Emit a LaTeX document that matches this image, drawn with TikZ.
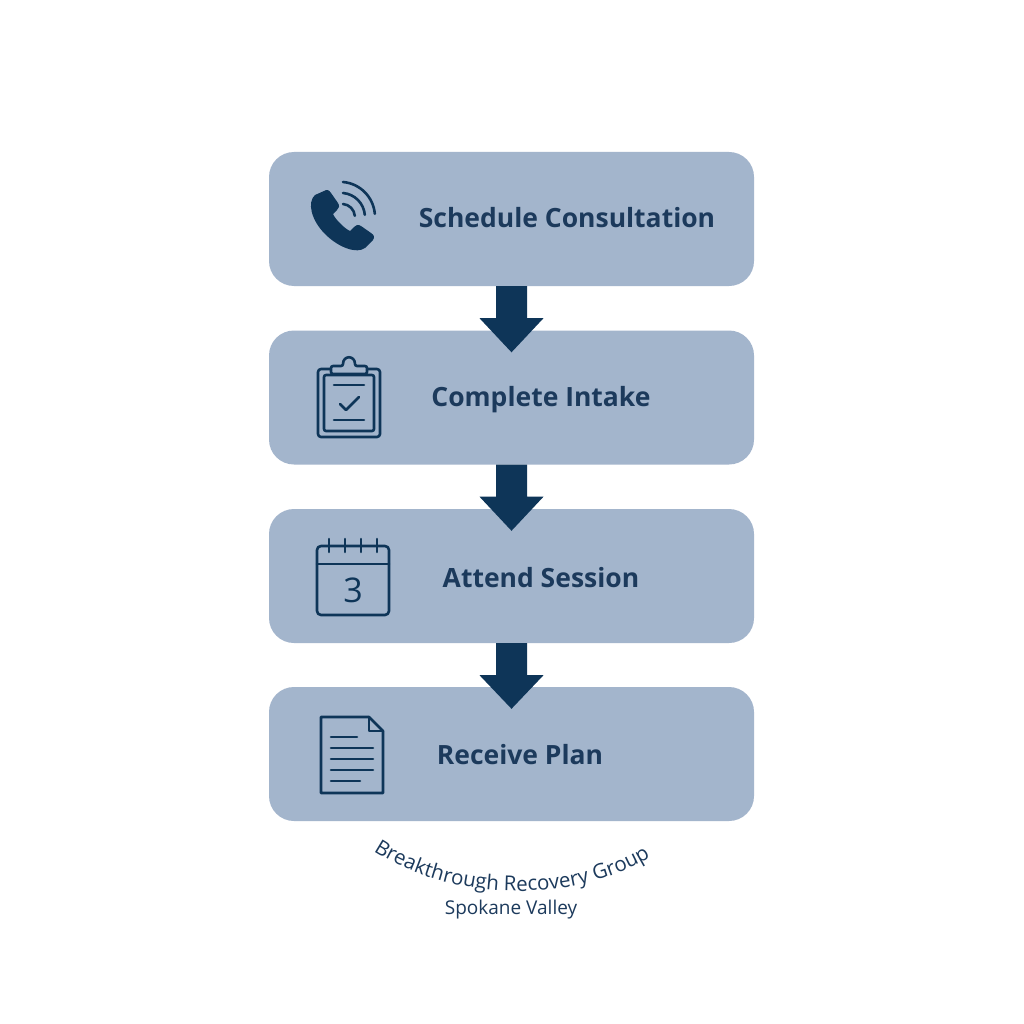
\documentclass[tikz,border=0pt]{standalone}
\usepackage{fontspec}
\setmainfont{Open Sans}
\usetikzlibrary{decorations.text}
\definecolor{boxc}{HTML}{A3B5CC}
\definecolor{navy}{HTML}{0E3558}
\definecolor{txt}{HTML}{1C3A5C}
\begin{document}
\begin{tikzpicture}[x=1pt,y=-1pt,
  stepbox/.style={fill=boxc,rounded corners=25pt,minimum width=485pt,minimum height=134pt,inner sep=0pt},
  lab/.style={text=txt,font=\fontsize{26.5}{28}\selectfont\bfseries},
  ic/.style={draw=navy,line width=2.6pt,line cap=round,line join=round}]
\useasboundingbox (0,0) rectangle (1024,1024);
\fill[white] (0,0) rectangle (1024,1024);
\node[stepbox] (b1) at (511.5,219) {};
\node[stepbox] (b2) at (511.5,397.5) {};
\node[stepbox] (b3) at (511.5,576) {};
\node[stepbox] (b4) at (511.5,754) {};
\node[lab] (t1) at (567,218) {Schedule Consultation};
\node[lab] (t2) at (541,400) {Complete Intake};
\node[lab] (t3) at (541,578) {Attend Session};
\node[lab] (t4) at (520,755) {Receive Plan};
% arrows
\foreach \a/\b in {b1/b2,b2/b3,b3/b4}{
  \fill[navy] ([xshift=-15.5pt]\a.south) -- ([xshift=-15.5pt,yshift=-32pt]\a.south) -- ([xshift=-32pt,yshift=-32pt]\a.south)
   -- ([yshift=-22pt]\b.north) -- ([xshift=32pt,yshift=-32pt]\a.south) -- ([xshift=15.5pt,yshift=-32pt]\a.south) -- ([xshift=15.5pt]\a.south) -- cycle;
}
% phone icon
\begin{scope}[shift={(345,220)}]
\fill[navy] (-30,-25) .. controls (-38,-18) and (-34,0) .. (-20,14) .. controls (-6,28) and (12,34) .. (20,28)
  -- (28,20) .. controls (30,17) and (29,15) .. (26,13) -- (16,6) .. controls (13,4) and (11,5) .. (9,7) -- (5,11)
  .. controls (0,9) and (-10,-1) .. (-12,-6) -- (-8,-10) .. controls (-6,-12) and (-5,-14) .. (-7,-17) -- (-14,-27)
  .. controls (-16,-30) and (-18,-31) .. (-21,-29) -- cycle;
\draw[ic] (-2,-16) arc (-85:-5:13);
\draw[ic] (-2,-27) arc (-85:-5:24);
\draw[ic] (-2,-38) arc (-85:-5:35);
\end{scope}
% clipboard
\begin{scope}[shift={(349,398)}]
\draw[ic,rounded corners=3pt] (-31,-29) rectangle (31,39);
\draw[ic,rounded corners=2pt] (-25,-23) rectangle (25,33);
\draw[ic,fill=boxc,rounded corners=2pt] (-18,-24) -- (-18,-32) -- (-6,-32) .. controls (-6,-43) and (6,-43) .. (6,-32) -- (18,-32) -- (18,-24) -- cycle;
\draw[ic] (-15,-13) -- (15,-13);
\draw[ic] (-9,6) -- (-3,12) -- (10,-1);
\draw[ic] (-15,22) -- (15,22);
\end{scope}
% calendar
\begin{scope}[shift={(353,578)}]
\draw[ic,rounded corners=4pt] (-36,-32) rectangle (36,37);
\draw[ic] (-36,-14) -- (36,-14);
\foreach \x in {-24,-8,8,24} \draw[ic] (\x,-39) -- (\x,-26);
\node[text=navy,font=\fontsize{34}{34}\selectfont] (n3) at (0,12) {3};
\end{scope}
% document
\begin{scope}[shift={(352,755)}]
\draw[ic] (-31,-38) -- (17,-38) -- (31,-24) -- (31,38) -- (-31,38) -- cycle;
\draw[ic] (17,-38) -- (17,-24) -- (31,-24);
\draw[ic] (-21,-18) -- (5,-18);
\draw[ic] (-21,-7) -- (21,-7);
\draw[ic] (-21,4) -- (21,4);
\draw[ic] (-21,15) -- (21,15);
\draw[ic] (-21,26) -- (8,26);
\end{scope}
% footer
\coordinate (fa) at (366,846);
\coordinate (fb) at (658,852);
\path[decorate,decoration={text along path,text align=center,
  text={|\fontsize{20.5}{21}\selectfont\color{txt}|Breakthrough Recovery Group}}]
  (fa) .. controls (450,905) and (580,905) .. (fb);
\node[text=txt,font=\fontsize{19}{20}\selectfont] (sv) at (511,910) {Spokane Valley};
\end{tikzpicture}
\end{document}
